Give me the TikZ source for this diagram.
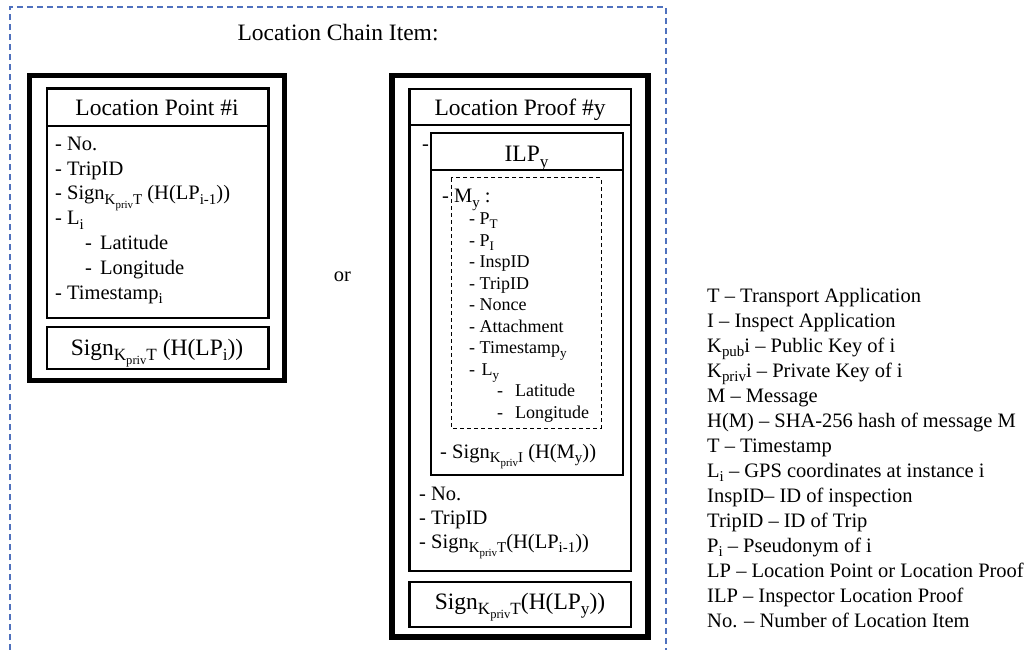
\documentclass[tikz,border=0pt]{standalone}
\usepackage{fontspec}
\setmainfont{Liberation Serif}
\makeatletter
\newcommand\sbt[1]{\raisebox{-0.24em}{\fontsize{\strip@pt\dimexpr\f@size pt*73/100\relax}{0}\selectfont #1}}
\makeatother
\newcommand\fHead{\fontsize{23.5}{28}\selectfont}
\newcommand\fItem{\fontsize{20.5}{24}\selectfont}
\newcommand\fSmall{\fontsize{18}{21}\selectfont}
\definecolor{dashblue}{RGB}{79,113,190}
\begin{document}
\begin{tikzpicture}[x=1pt,y=-1pt,
  outerbox/.style={line width=5.5pt},
  innerbox/.style={line width=2.5pt},
  ilpbox/.style={line width=1.5pt},
  msgbox/.style={line width=1pt,dash pattern=on 4pt off 3pt},
  frame/.style={dashblue,line width=1.3pt,dash pattern=on 6pt off 4pt},
  item/.style={anchor=base west,inner sep=0pt,font=\fItem},
  small/.style={anchor=base west,inner sep=0pt,font=\fSmall},
  head/.style={anchor=base,inner sep=0pt,font=\fHead},
  legend/.style={anchor=base west,inner sep=0pt,font=\fItem}]
\useasboundingbox (0,0) rectangle (1034,650);

% outer dashed frame
\draw[frame] (10,650) -- (10,7) -- (666,7) -- (666,650);
\node[head] (title) at (338,41) {Location Chain Item:};

% ---- Location Point ----
\draw[outerbox] (29.5,75.5) rectangle (284.5,380.5);
\draw[innerbox] (47,88.5) rectangle (268.5,318);
\draw[innerbox] (47,126) -- (268.5,126);
\draw[innerbox] (47,327) rectangle (268.5,369);
\node[head] (lphead) at (157,116) {Location Point \#i};
\node[item] (lp1) at (55,151) {- No.};
\node[item] (lp2) at (55,175.5) {- TripID};
\node[item] (lp3) at (55,200) {- Sign\sbt{K\sbt{priv}T} (H(LP\sbt{i-1}))};
\node[item] (lp4) at (55,224.5) {- L\sbt{i}};
\node[item] (lp5) at (85,249) {-\hspace{8pt}Latitude};
\node[item] (lp6) at (85,274) {-\hspace{8pt}Longitude};
\node[item] (lp7) at (55,299) {- Timestamp\sbt{i}};
\node[head] (lpsign) at (157,355) {Sign\sbt{K\sbt{priv}T} (H(LP\sbt{i}))};

\node[item,anchor=base] (or) at (342.5,281) {or};

% ---- Location Proof ----
\draw[outerbox] (392,75.5) rectangle (648,637);
\draw[innerbox] (409.5,89) rectangle (631,571);
\draw[innerbox] (409.5,125) -- (631,125);
\draw[innerbox] (409.5,582) rectangle (631,627);
\draw[ilpbox] (431,133) rectangle (623,475);
\draw[ilpbox] (431,170) -- (623,170);
\draw[msgbox] (451,178) rectangle (601,428);
\node[head] (prhead) at (520,116) {Location Proof \#y};
\node[item] (pr0) at (422,151) {-};
\node[head] (ilphead) at (526.5,162) {ILP\sbt{y}};
\node[item] (my) at (442,203) {- M\sbt{y} :};
\node[small] (p1) at (469,224.5) {- P\sbt{T}};
\node[small] (p2) at (469,246) {- P\sbt{I}};
\node[small] (p3) at (469,267.5) {- InspID};
\node[small] (p4) at (469,289) {- TripID};
\node[small] (p5) at (469,310.5) {- Nonce};
\node[small] (p6) at (469,332) {- Attachment};
\node[small] (p7) at (469,353.5) {- Timestamp\sbt{y}};
\node[small] (p8) at (469,375) {- \hspace{2pt}L\sbt{y}};
\node[small] (p9) at (497,396.5) {-\hspace{12pt}Latitude};
\node[small] (p10) at (497,418) {-\hspace{12pt}Longitude};
\node[item] (ilpsign) at (440,458) {- Sign\sbt{K\sbt{priv}I} (H(M\sbt{y}))};
\node[item] (pr1) at (419,500) {- No.};
\node[item] (pr2) at (419,524) {- TripID};
\node[item] (pr3) at (419,548) {- Sign\sbt{K\sbt{priv}T}(H(LP\sbt{i-1}))};
\node[head] (prsign) at (520,609) {Sign\sbt{K\sbt{priv}T}(H(LP\sbt{y}))};

% ---- Legend ----
\node[legend] (leg1) at (707,302) {T – Transport Application};
\node[legend] (leg2) at (707,327) {I – Inspect Application};
\node[legend] (leg3) at (707,352) {K\sbt{pub}i – Public Key of i};
\node[legend] (leg4) at (707,377) {K\sbt{priv}i – Private Key of i};
\node[legend] (leg5) at (707,402) {M – Message};
\node[legend] (leg6) at (707,427) {H(M) – SHA-256 hash of message M};
\node[legend] (leg7) at (707,452) {T – Timestamp};
\node[legend] (leg8) at (707,477) {L\sbt{i} – GPS coordinates at instance i};
\node[legend] (leg9) at (707,502) {InspID– ID of inspection};
\node[legend] (leg10) at (707,527) {TripID – ID of Trip};
\node[legend] (leg11) at (707,552) {P\sbt{i} – Pseudonym of i};
\node[legend] (leg12) at (707,577) {LP – Location Point or Location Proof};
\node[legend] (leg13) at (707,602) {ILP – Inspector Location Proof};
\node[legend] (leg14) at (707,627) {No. – Number of Location Item};
\end{tikzpicture}
\end{document}
